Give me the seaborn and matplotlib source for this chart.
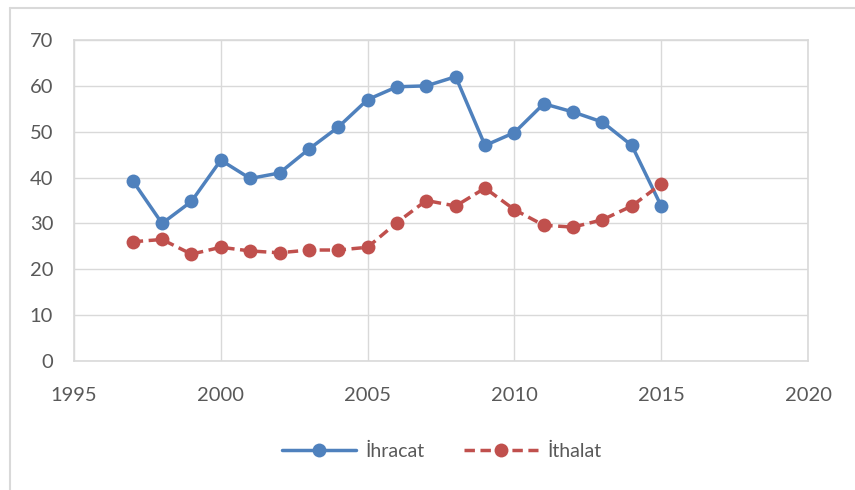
import pandas as pd
import matplotlib.pyplot as plt
from matplotlib.lines import Line2D
import seaborn as sns

years = list(range(1997, 2016))
ihracat = [39.3, 30.0, 34.8, 43.8, 39.8, 41.0, 46.2, 51.0, 57.0, 59.8,
           60.0, 62.0, 47.0, 49.8, 56.1, 54.3, 52.1, 47.0, 33.8]
ithalat = [26.0, 26.5, 23.3, 24.8, 24.0, 23.6, 24.2, 24.2, 24.8, 30.2,
           35.0, 33.8, 37.7, 33.0, 29.6, 29.2, 30.8, 33.8, 38.6]
series_names = ["İhracat", "İthalat"]

df = pd.DataFrame({"yil": years, series_names[0]: ihracat, series_names[1]: ithalat})
long_df = df.melt(id_vars="yil", var_name="seri", value_name="deger")

sns.set_style("white")
plt.rcParams["font.family"] = ["Lato", "DejaVu Sans"]

fig = plt.figure(figsize=(8.55, 4.9), dpi=100)
ax = fig.add_axes([74 / 855, 1 - 361 / 490, (808 - 74) / 855, (361 - 40) / 490])

colors = {"İhracat": "#4f81bd", "İthalat": "#c0504d"}
dash = (3.0, 1.6)
sns.lineplot(data=long_df, x="yil", y="deger", hue="seri", style="seri",
             palette=colors, dashes={"İhracat": "", "İthalat": dash},
             markers={"İhracat": "o", "İthalat": "o"}, markersize=10,
             markeredgewidth=0, linewidth=2.5, ax=ax, legend=False)

ax.set_xlim(1995, 2020)
ax.set_ylim(0, 70)
ax.set_xticks(range(1995, 2021, 5))
ax.set_yticks(range(0, 71, 10))
ax.grid(True, color="#d9d9d9", linewidth=1)
ax.set_axisbelow(True)
for s in ax.spines.values():
    s.set_color("#d9d9d9")
    s.set_linewidth(1.2)
ax.tick_params(axis="both", length=0, labelsize=14.5, labelcolor="#595959")
ax.tick_params(axis="x", pad=19)
ax.tick_params(axis="y", pad=15)
ax.set_xlabel("")
ax.set_ylabel("")

handles = [
    Line2D([], [], color=colors["İhracat"], linewidth=2.5, marker="o",
           markersize=10, markeredgewidth=0),
    Line2D([], [], color=colors["İthalat"], linewidth=2.5, linestyle=(0, dash),
           marker="o", markersize=10, markeredgewidth=0),
]
fig.legend(handles, series_names, loc="center", bbox_to_anchor=(442 / 855, 1 - 451 / 490),
           ncol=2, frameon=False, fontsize=14, labelcolor="#595959",
           handlelength=3.8, columnspacing=2.0, handletextpad=0.5)

# outer chart border (left and top visible)
fig.add_artist(Line2D([10 / 855, 10 / 855], [0, 1 - 8 / 490], color="#d9d9d9", linewidth=1.5))
fig.add_artist(Line2D([10 / 855, 1], [1 - 8 / 490, 1 - 8 / 490], color="#d9d9d9", linewidth=1.5))

fig.savefig("out.png", dpi=100)
